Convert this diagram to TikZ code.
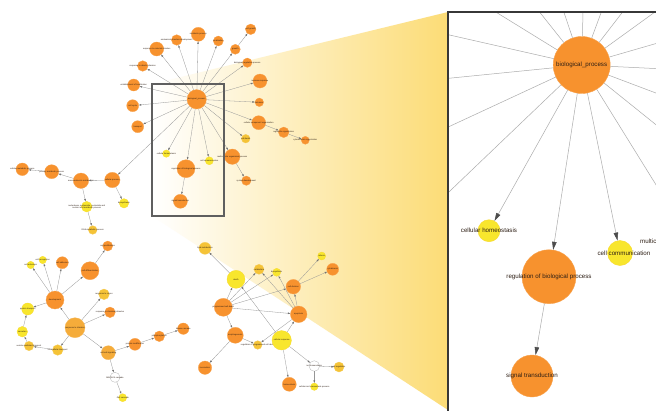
\documentclass[tikz,border=0pt]{standalone}
\usepackage{fontspec}
\setmainfont{Liberation Sans}
\usetikzlibrary{arrows.meta,calc}
\definecolor{orN}{RGB}{247,146,46}
\definecolor{yeN}{RGB}{248,230,45}
\definecolor{miN}{RGB}{245,195,55}
\definecolor{loN}{RGB}{245,172,58}
\definecolor{zoomY}{RGB}{252,220,118}
\definecolor{edgeC}{RGB}{150,150,150}
\definecolor{frameC}{RGB}{55,55,55}
\definecolor{rectC}{RGB}{95,95,95}
\definecolor{txtC}{RGB}{45,30,20}
\newcommand{\gnd}[5]{\node[gnode,#5,minimum size={2*#4pt},label={[mlabel]center:{#3}}] (#1) at (#2) {};}
\tikzset{
  gnode/.style={circle,inner sep=0pt,line width=.3pt},
  nOr/.style={fill=orN,draw=orN!85!white},
  nYe/.style={fill=yeN,draw=yeN!85!orN},
  nMi/.style={fill=miN,draw=miN!85!white},
  nLo/.style={fill=loN,draw=loN!85!white},
  nWh/.style={fill=white,draw=gray!60},
  mlabel/.style={font=\fontsize{2.1}{2.4}\selectfont,text=txtC,inner sep=0pt,align=center},
  plabel/.style={font=\fontsize{6.2}{7}\selectfont,text=txtC,inner sep=0pt},
  medge/.style={draw=edgeC,line width=.3pt,-{Triangle[length=2.4pt,width=1.6pt,color=black!55]}},
  pedge/.style={draw=gray!65,line width=.5pt},
  pedgeA/.style={pedge,-{Triangle[length=8pt,width=4.5pt,color=black!70]}},
  pnode/.style={circle,inner sep=0pt,line width=.4pt}
}
\begin{document}
\begin{tikzpicture}[x=1pt,y=-1pt]
\useasboundingbox (0,0) rectangle (656,410);
\fill[white] (0,0) rectangle (656,410);
% zoom cone
\coordinate (rTL) at (152,84);
\coordinate (rBR) at (224,216);
\coordinate (rBL) at (152,216);
\coordinate (pTL) at (448,12);
\coordinate (pBL) at (448,410);
\shade[left color=white,right color=zoomY] (rTL) -- (pTL) -- (pBL) -- (rBL) -- cycle;

% ---- top cluster
\gnd{H}{196.7,99.3}{biological\_process}{9.7}{nOr}
\gnd{n1}{156.7,49}{response to external stimulus}{7}{nOr}
\gnd{n2}{176.7,40}{anatomical structure development}{5.3}{nOr}
\gnd{n3}{198.3,34.3}{metabolic process}{7}{nOr}
\gnd{n4}{218.3,41}{localization}{5}{nOr}
\gnd{n5}{235.3,49.3}{growth}{5}{nOr}
\gnd{n5b}{250.7,29.3}{cell growth}{5.3}{nOr}
\gnd{n6}{247.3,62.7}{biological regulation process}{4.7}{nOr}
\gnd{n7}{260,81}{immune response}{7}{nOr}
\gnd{n8}{259.3,102.3}{behavior}{4.3}{nOr}
\gnd{n9}{258.7,122.7}{cellular component organization}{7}{nOr}
\gnd{n9b}{283.7,132.3}{organelle organization}{5.3}{nOr}
\gnd{n9c}{305.3,140.3}{cytoskeleton organization}{4}{nOr}
\gnd{n10}{245.7,138.7}{cell death}{4.3}{nMi}
\gnd{n11}{232.3,156.7}{multicellular organismal process}{7.7}{nOr}
\gnd{n11b}{246.3,180.7}{system development}{4.7}{nOr}
\gnd{n12}{209.3,160.8}{cell communication}{4}{nYe}
\gnd{n13}{186,168.7}{regulation of biological process}{9}{nOr}
\gnd{n13b}{180.4,201.3}{signal transduction}{7}{nOr}
\gnd{n14}{166.3,153.6}{cellular homeostasis}{3.7}{nYe}
\gnd{n15}{112.3,180}{cellular process}{7.7}{nOr}
\gnd{n16}{137.7,126.7}{transport}{6}{nOr}
\gnd{n17}{132.7,105.7}{cell cycle}{6}{nOr}
\gnd{n18}{133.7,85}{establishment of localization}{6}{nOr}
\gnd{n19}{142.7,66}{response to abiotic stimulus}{5.3}{nOr}
% ---- left cluster
\gnd{A1}{22.3,169.3}{cellular metabolic process}{6.3}{nOr}
\gnd{A2}{51.7,171.7}{primary metabolic process}{7}{nOr}
\gnd{A3}{81,180.7}{macromolecule metabolism}{7.7}{nOr}
\gnd{A4}{86.7,206.7}{nucleobase, nucleoside, nucleotide and\\nucleic acid metabolic process}{5.3}{nYe}
\gnd{A5}{124,203.3}{biosynthesis}{4.7}{nYe}
\gnd{A6}{92.7,230}{RNA metabolic process}{4.3}{nMi}
% ---- bottom-left cluster
\gnd{B1}{107.7,246}{cell proliferation}{5}{nOr}
\gnd{B2}{90,270.7}{cell differentiation}{9}{nOr}
\gnd{B3}{62.3,262.7}{cell adhesion}{6}{nOr}
\gnd{B4}{42.7,260}{cell recognition}{3.7}{nYe}
\gnd{B5}{30.7,265}{cell activation}{3.7}{nYe}
\gnd{B6}{55,300}{development}{9}{nOr}
\gnd{B7}{27.7,309}{protein transport}{6}{nYe}
\gnd{B8}{22.3,331.7}{secretion}{5.3}{nYe}
\gnd{B9}{29,346}{vesicle-mediated transport}{4.7}{nMi}
\gnd{B10}{57.7,350}{intracellular transport}{5.3}{nMi}
\gnd{B11}{75,327.7}{response to stimulus}{10}{nLo}
\gnd{B12}{104,294.3}{response to stress}{5.3}{nMi}
\gnd{B13}{110,312.3}{response to chemical stimulus}{5.3}{nOr}
\gnd{B14}{108.3,352.7}{cell-cell signaling}{7}{nLo}
\gnd{B15}{135,344.3}{protein modification}{6}{nOr}
\gnd{B16}{159.3,336.3}{phosphorylation}{5.3}{nOr}
\gnd{B17}{183.3,328.7}{kinase cascade}{5.7}{nOr}
\gnd{B18}{115,377.3}{MAPKKK cascade}{5}{nWh}
\gnd{B19}{122.7,397.7}{JNK cascade}{4}{nYe}
% ---- bottom-right cluster
\gnd{C1}{205,248.3}{lipid metabolism}{6}{nMi}
\gnd{C2}{236,279.3}{death}{9}{nYe}
\gnd{C3}{259,269.3}{catabolism}{5}{nMi}
\gnd{C4}{276.7,272.3}{biosynthetic}{4}{nYe}
\gnd{C5}{293.3,286.7}{cell division}{7.3}{nOr}
\gnd{C6}{321.7,256}{mitosis}{4}{nYe}
\gnd{C7}{332.7,269.3}{cytokinesis}{6}{nOr}
\gnd{C8}{223.3,307.3}{programmed cell death}{9}{nOr}
\gnd{C9}{298.7,314.3}{apoptosis}{8.3}{nOr}
\gnd{C10}{235.3,335.3}{morphogenesis}{8}{nOr}
\gnd{C11}{257.7,345}{regulation of programmed cell death}{4.3}{nMi}
\gnd{C12}{281.7,340.3}{cellular response}{9.7}{nYe}
\gnd{C13}{205,367.7}{locomotion}{6.7}{nOr}
\gnd{C14}{289.3,384.3}{homeostasis}{7}{nOr}
\gnd{C15}{314.3,366}{ion homeostasis}{5.3}{nWh}
\gnd{C16}{339,367}{pH regulation}{5}{nMi}
\gnd{C17}{314.3,386.7}{cellular ion homeostasis process}{3.7}{nYe}

% ---- edges
\foreach \t in {n1,n2,n3,n4,n5,n6,n7,n8,n9,n10,n11,n12,n13,n14,n15,n16,n17,n18,n19}
  {\draw[medge] (H) -- (\t);}
\foreach \a/\b in {n5/n5b,n9/n9b,n9b/n9c,n11/n11b,n13/n13b,
  n15/A3,A3/A2,A2/A1,A3/A4,A4/A6,n15/A5,
  B6/B2,B2/B1,B6/B3,B6/B4,B6/B5,B6/B7,B8/B7,B9/B8,B10/B9,B11/B6,B11/B10,B11/B12,B11/B13,B11/B14,
  B14/B15,B15/B16,B16/B17,B14/B18,B18/B19,
  C2/C1,C8/C2,C8/C3,C8/C4,C8/C5,C8/C9,C8/C10,C9/C5,C9/C3,C9/C4,C5/C6,C5/C7,C12/C2,C12/C9,
  C10/C11,C9/C11,C10/C13,C12/C14,C12/C15,C15/C16,C15/C17}
  {\draw[medge] (\a) -- (\b);}

% selection rectangle
\draw[rectC,line width=1.2pt] (rTL) rectangle (rBR);

% ---- magnified panel
\fill[white] (448,12) rectangle (660,414);
\begin{scope}
\clip (448,12) rectangle (656,410);
\node[pnode,nOr,minimum size=57pt,label={[plabel]center:biological\_process}] (PH) at (581.7,65) {};
\node[pnode,nYe,minimum size=22pt,label={[plabel]center:cellular homeostasis}] (PCH) at (489,230.7) {};
\node[pnode,nOr,minimum size=54pt,label={[plabel]center:regulation of biological process}] (PRG) at (549,276.7) {};
\node[pnode,nYe,minimum size=25pt,label={[plabel,xshift=4pt]center:cell communication}] (PCC) at (620,253) {};
\node[pnode,nOr,minimum size=42pt,label={[plabel]center:signal transduction}] (PST) at (532,376) {};
\node[pnode,nOr,minimum size=47pt,label={[plabel,xshift=-6pt,yshift=-2pt]center:multicellular organismal process}] (P11) at ($(PH)+3.05*(n11)-3.05*(H)$) {};
\foreach \t in {n1,n2,n3,n4,n5,n6,n7,n8,n9,n10,n15,n16,n17,n18,n19}
  {\draw[pedge] (PH) -- ($(PH)+3.05*(\t)-3.05*(H)$);}
\draw[pedgeA] (PH) -- (PCH);
\draw[pedgeA] (PH) -- (PRG);
\draw[pedgeA] (PH) -- (PCC);
\draw[pedgeA] (PH) -- (P11);
\draw[pedgeA] (PRG) -- (PST);
\end{scope}
\draw[frameC,line width=1.6pt] (658,12) -- (448,12) -- (448,412);
\end{tikzpicture}
\end{document}
